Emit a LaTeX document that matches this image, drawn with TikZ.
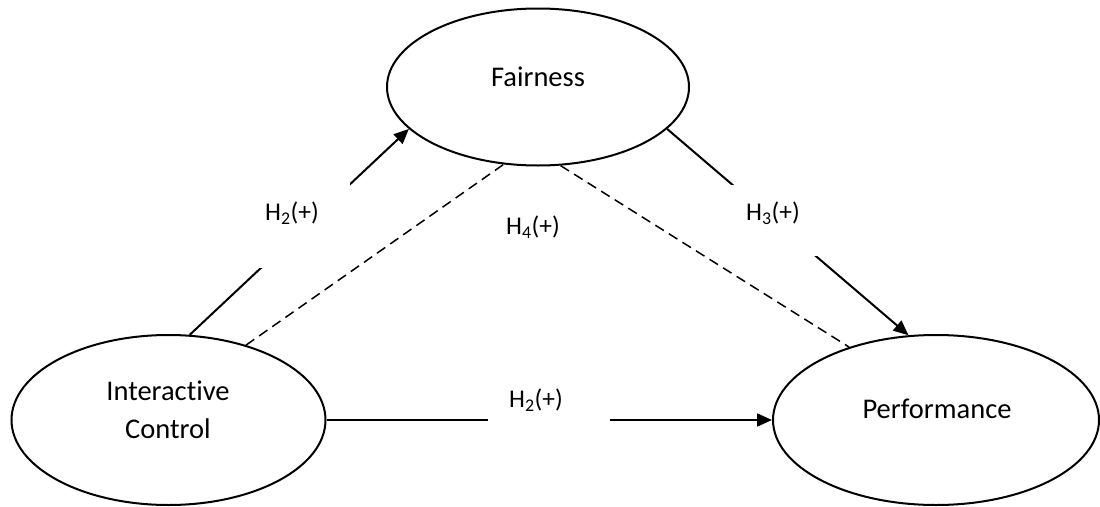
\documentclass[tikz,border=0pt]{standalone}
\usepackage{fontspec}
\setmainfont{Carlito}[Ligatures=NoCommon]
\usetikzlibrary{shapes.geometric,arrows.meta}
\begin{document}
\begin{tikzpicture}[x=1pt,y=-1pt,
  ell/.style={draw,ellipse,line width=2pt,inner sep=0pt},
  ntext/.style={font=\fontsize{28.5}{37.5}\selectfont,align=center,inner sep=0pt},
  lbl/.style={font=\fontsize{25.5}{30}\selectfont,inner sep=0pt},
  gapbox/.style={fill=white,inner sep=0pt},
  solidarrow/.style={line width=2pt,-{Triangle[length=15pt,width=13pt]}},
  dashline/.style={line width=1.5pt,dash pattern=on 10pt off 6pt}]
\useasboundingbox (0,0) rectangle (1100,506);
% ellipses
\node[ell,minimum width=302pt,minimum height=157pt] (fair) at (538,87) {};
\node[ell,minimum width=314pt,minimum height=170pt] (ic) at (168.5,420) {};
\node[ell,minimum width=326pt,minimum height=170pt] (perf) at (936,420) {};
\node[ntext] (fairtxt) at (538,77) {Fairness};
\node[ntext] (ictxt) at (168,410) {Interactive\\Control};
\node[ntext] (perftxt) at (937,409) {Performance};
% connectors
\draw[solidarrow] (ic.76.4) -- (fair.198.6);
\draw[solidarrow] (fair.342.2) -- (perf.108.2);
\draw[solidarrow] (ic.east) -- (perf.west);
\draw[dashline] (ic.44) -- (fair.246.4);
\draw[dashline] (fair.286.7) -- (perf.140.6);
% label boxes (white, cut the lines)
\node[gapbox,minimum width=110pt,minimum height=88pt] (gap1) at (295,224) {};
\node[gapbox,minimum width=97pt,minimum height=71pt] (gap2) at (773.5,220.5) {};
\node[gapbox,minimum width=122pt,minimum height=45pt] (gap3) at (549,407.5) {};
% labels
\node[lbl] (l1) at (292,213) {H\textsubscript{2}(+)};
\node[lbl] (l2) at (773,213) {H\textsubscript{3}(+)};
\node[lbl] (l3) at (536,400) {H\textsubscript{2}(+)};
\node[lbl] (l4) at (533,227) {H\textsubscript{4}(+)};
\end{tikzpicture}
\end{document}
